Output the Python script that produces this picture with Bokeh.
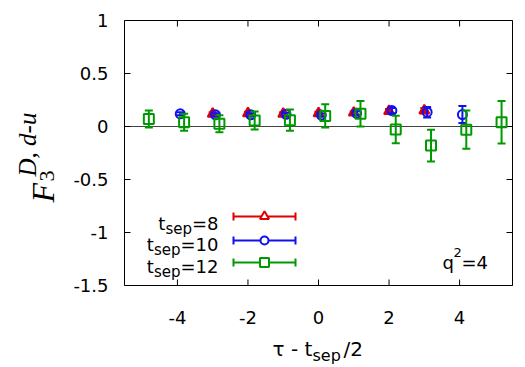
import numpy as np
from bokeh.plotting import figure
from bokeh.models import Range1d
from bokeh.core.properties import value
from bokeh.embed import file_html
from bokeh.resources import INLINE

# F3 (d-u) versus tau - t_sep/2 for three source-sink separations
tau_8 = [-3, -2, -1, 0, 1, 2, 3]
f3_8 = [0.12, 0.125, 0.12, 0.125, 0.13, 0.145, 0.15]
err_8 = [0.015, 0.015, 0.015, 0.015, 0.015, 0.02, 0.025]

tau_10 = [-4, -3, -2, -1, 0, 1, 2, 3, 4]
f3_10 = [0.12, 0.11, 0.11, 0.115, 0.108, 0.125, 0.15, 0.135, 0.113]
err_10 = [0.015, 0.015, 0.015, 0.015, 0.015, 0.02, 0.025, 0.05, 0.08]

tau_12 = [-5, -4, -3, -2, -1, 0, 1, 2, 3, 4, 5]
f3_12 = [0.07, 0.04, 0.025, 0.057, 0.06, 0.10, 0.12, -0.028, -0.18, -0.03, 0.04]
err_12 = [0.08, 0.08, 0.08, 0.085, 0.10, 0.11, 0.12, 0.13, 0.15, 0.18, 0.2]

x_ticks = [-4, -2, 0, 2, 4]
x_tick_labels = ["-4", "-2", "0", "2", "4"]
y_ticks = [-1.5, -1, -0.5, 0, 0.5, 1]
y_tick_labels = ["-1.5", "-1", "-0.5", "0", "0.5", "1"]

legend_names = ["8", "10", "12"]
q2_label = "4"

# page and plotting-box geometry (pixels)
W, H = 525, 367
FL, FR, FT, FB = 124, 512, 20, 285
X0, X1 = -5.5, 5.5
Y0, Y1 = -1.5, 1.0
TICK = 6

SANS = "DejaVu Sans"
SERIF = "Liberation Serif"


def dx(cx):
    return X0 + (cx - FL) / (FR - FL) * (X1 - X0)


def dy(cy):
    return Y1 - (cy - FT) / (FB - FT) * (Y1 - Y0)


# the frame spans the whole page so that tick labels and titles around the
# plotting box are drawn by the same scales as the data
p = figure(width=W, height=H, output_backend="svg", toolbar_location=None,
           x_range=Range1d(dx(0), dx(W)), y_range=Range1d(dy(H), dy(0)),
           x_axis_location=None, y_axis_location=None,
           min_border=0, outline_line_color=None)
p.xgrid.visible = False
p.ygrid.visible = False
p.background_fill_color = "white"
p.border_fill_color = "white"

# zero line
p.segment([X0], [0], [X1], [0], line_color="#444444", line_width=1)

# box border
p.quad(left=[X0], right=[X1], bottom=[Y0], top=[Y1], fill_color=None,
       line_color="black", line_width=1)

# inward ticks on all four sides
tick_dy = TICK / (FB - FT) * (Y1 - Y0)
tick_dx = TICK / (FR - FL) * (X1 - X0)
nx, ny = len(x_ticks), len(y_ticks)
p.segment(x_ticks, [Y0] * nx, x_ticks, [Y0 + tick_dy] * nx, line_color="black", line_width=1)
p.segment(x_ticks, [Y1] * nx, x_ticks, [Y1 - tick_dy] * nx, line_color="black", line_width=1)
p.segment([X0] * ny, y_ticks, [X0 + tick_dx] * ny, y_ticks, line_color="black", line_width=1)
p.segment([X1] * ny, y_ticks, [X1 - tick_dx] * ny, y_ticks, line_color="black", line_width=1)

# tick labels
p.text(x=x_ticks, y=[Y0] * nx, text=x_tick_labels, y_offset=32,
       text_font=value(SANS), text_font_size="18px", text_align="center",
       text_baseline="alphabetic", text_color="black")
p.text(x=[X0] * ny, y=y_ticks, text=y_tick_labels, x_offset=-16,
       text_font=value(SANS), text_font_size="18px", text_align="right",
       text_baseline="middle", text_color="black")

series = [
    dict(tau=tau_8, y=f3_8, e=err_8, shift=0.0, color="#e00000", marker="triangle",
         size=10, fill="#e00000"),
    dict(tau=tau_10, y=f3_10, e=err_10, shift=0.08, color="#1010f0", marker="circle",
         size=9, fill=None),
    dict(tau=tau_12, y=f3_12, e=err_12, shift=0.19, color="#009a00", marker="square",
         size=10, fill=None),
]

for s in series:
    x = np.array(s["tau"], dtype=float) + s["shift"]
    y = np.array(s["y"], dtype=float)
    e = np.array(s["e"], dtype=float)
    p.segment(x, y - e, x, y + e, line_color=s["color"], line_width=2)
    p.scatter(x, y + e, marker="dash", size=8, line_color=s["color"], line_width=2)
    p.scatter(x, y - e, marker="dash", size=8, line_color=s["color"], line_width=2)
    p.scatter(x, y, marker=s["marker"], size=s["size"], fill_color=s["fill"],
              line_color=s["color"], line_width=2)


def put(text, cx, cy, size, font=SANS, style="normal", align="left", angle=0.0):
    p.text(x=[dx(cx)], y=[dy(cy)], text=[text], text_font=value(font),
           text_font_size=f"{size}px", text_font_style=value(style),
           text_align=align, text_baseline="alphabetic", angle=angle,
           text_color="black")


# legend keys: error-bar sample with marker
key_rows = [216, 240, 262]
for s, cy in zip(series, key_rows):
    yy = dy(cy)
    p.segment([dx(233)], [yy], [dx(295)], [yy], line_color=s["color"], line_width=2)
    p.scatter([dx(233), dx(295)], [yy, yy], marker="dash", angle=np.pi / 2, size=8,
              line_color=s["color"], line_width=2)
    p.scatter([dx(264)], [yy], marker=s["marker"], size=s["size"] - 1, fill_color="white",
              line_color=s["color"], line_width=2)

# legend texts t_sep=N, right-aligned at the same edge
text_rows = [223, 244, 266]
for name, base in zip(legend_names, text_rows):
    eq_w = 18 * (0.838 + 0.636 * len(name))
    put("=" + name, 218, base, 18, align="right")
    put("sep", 218 - eq_w, base + 5, 15, align="right")
    put("t", 218 - eq_w - 26.6, base, 18, align="right")

# q^2 annotation
put("q", 442, 262, 18)
put("2", 453, 252, 13)
put("=" + q2_label, 461, 262, 18)

# x-axis title: tau - t_sep/2
put("\u03c4 - t", 272, 348, 20)
put("sep", 312, 355, 16)
put("/2", 343, 348, 20)

# y-axis title: F_3^{D, d-u}, reading upwards
put("F", 42, 202, 32, font=SERIF, style="italic", angle=np.pi / 2)
put("3", 46, 181, 22, font=SERIF, angle=np.pi / 2)
put("D, d-u", 27, 176, 25, font=SERIF, style="italic", angle=np.pi / 2)

open("out.html", "w").write(file_html(p, INLINE))
